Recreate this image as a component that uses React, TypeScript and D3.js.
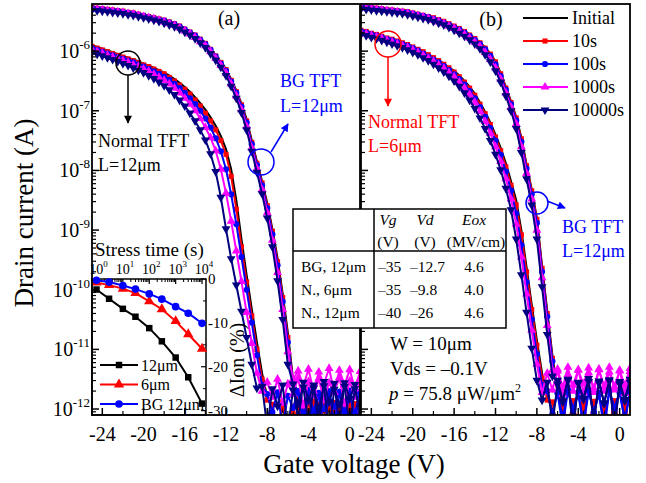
import React from "react";
import * as d3 from "d3";

// Gate voltage sweep (V)
const GATE_V = [
  -25.5, -25, -24.5, -24, -23.5, -23, -22.5, -22, -21.5, -21, -20.5, -20, -19.5, -19,
  -18.5, -18, -17.5, -17, -16.5, -16, -15.5, -15, -14.5, -14, -13.5, -13, -12.5, -12,
  -11.5, -11, -10.5, -10, -9.5, -9, -8.5, -8, -7.5, -7, -6.5, -6, -5.5, -5, -4.5, -4,
  -3.5, -3, -2.5, -2, -1.5, -1, -0.5, 0, 0.5, 1,
];

// log10 of drain current (A). Panel (a): normal TFT, L = 12 um
const NA_INIT = [
  -5.87, -5.9, -5.93, -5.96, -5.99, -6.02, -6.05, -6.08, -6.11, -6.14, -6.17, -6.21, -6.24, -6.28,
  -6.32, -6.36, -6.41, -6.47, -6.53, -6.6, -6.68, -6.77, -6.87, -6.98, -7.11, -7.25, -7.42, -7.64,
  -7.98, -8.5, -9.15, -9.75, -10.32, -10.88, -11.4, -11.8,
  -12.0, -12.3, -11.98, -12.4, -12.02, -12.25, -11.97, -12.35, -12.01, -12.28, -11.99, -12.4,
  -12.03, -12.22, -11.98, -12.33, -12.0, -12.26,
];
const NA_10S = [
  -5.89, -5.92, -5.95, -5.98, -6.01, -6.04, -6.07, -6.1, -6.13, -6.16, -6.19, -6.23, -6.26, -6.3,
  -6.34, -6.38, -6.44, -6.5, -6.57, -6.64, -6.72, -6.82, -6.92, -7.04, -7.17, -7.32, -7.5, -7.73,
  -8.1, -8.65, -9.28, -9.87, -10.44, -11.0, -11.5, -11.85,
  -11.92, -12.35, -11.88, -12.4, -11.95, -12.28, -11.9, -12.4, -11.87, -12.32, -11.93, -12.4,
  -11.89, -12.3, -11.94, -12.38, -11.91, -12.35,
];
const NA_100S = [
  -5.92, -5.95, -5.98, -6.01, -6.04, -6.07, -6.1, -6.13, -6.16, -6.19, -6.22, -6.26, -6.3, -6.34,
  -6.38, -6.43, -6.48, -6.55, -6.62, -6.7, -6.79, -6.89, -7.0, -7.13, -7.28, -7.46, -7.68, -7.98,
  -8.4, -8.9, -9.45, -10.0, -10.55, -11.1, -11.6,
  -11.75, -12.05, -11.72, -12.3, -11.78, -11.98, -11.7, -12.25, -11.76, -12.02, -11.73, -12.35,
  -11.77, -11.96, -11.71, -12.2, -11.74, -12.08, -11.72,
];
const NA_1000S = [
  -5.95, -5.98, -6.01, -6.04, -6.07, -6.1, -6.13, -6.16, -6.19, -6.23, -6.26, -6.3, -6.34, -6.39,
  -6.44, -6.49, -6.55, -6.62, -6.7, -6.79, -6.89, -7.0, -7.13, -7.28, -7.45, -7.67, -7.98, -8.38,
  -8.85, -9.35, -9.86, -10.38, -10.9, -11.4, -11.7,
  -11.55, -11.8, -11.5, -11.9, -11.58, -11.75, -11.48, -11.95, -11.54, -11.78, -11.49, -11.85,
  -11.56, -11.72, -11.47, -11.92, -11.53, -11.8, -11.5,
];
const NA_10000S = [
  -5.99, -6.02, -6.05, -6.08, -6.11, -6.14, -6.17, -6.21, -6.24, -6.28, -6.32, -6.36, -6.41, -6.46,
  -6.52, -6.58, -6.65, -6.73, -6.82, -6.92, -7.04, -7.17, -7.32, -7.49, -7.72, -8.02, -8.45, -8.98,
  -9.48, -9.92, -10.36, -10.8, -11.25, -11.65,
  -11.62, -12.3, -11.66, -11.95, -11.6, -12.35, -11.68, -11.9, -11.63, -12.25, -11.65, -12.0,
  -11.61, -12.4, -11.67, -11.92, -11.62, -12.3, -11.66, -11.98,
];

// Panel (a): BG TFT, L = 12 um
const BA_INIT = [
  -5.25, -5.26, -5.27, -5.28, -5.29, -5.3, -5.31, -5.32, -5.34, -5.35, -5.37, -5.39, -5.41, -5.43,
  -5.45, -5.47, -5.5, -5.53, -5.57, -5.62, -5.67, -5.72, -5.79, -5.86, -5.96, -6.07, -6.18, -6.3,
  -6.47, -6.66, -6.88, -7.14, -7.5, -7.85, -8.18, -8.55, -8.98, -9.47, -10.07, -10.72, -11.5,
  -12.02, -12.3, -11.99, -12.38, -12.01, -12.25, -11.98, -12.35, -12.03, -12.28, -12.0, -12.4, -11.99,
];
const BA_10S = [
  -5.26, -5.27, -5.28, -5.29, -5.3, -5.31, -5.32, -5.33, -5.35, -5.36, -5.38, -5.4, -5.42, -5.44,
  -5.46, -5.48, -5.51, -5.54, -5.58, -5.63, -5.68, -5.73, -5.8, -5.87, -5.97, -6.08, -6.19, -6.31,
  -6.49, -6.68, -6.9, -7.17, -7.53, -7.88, -8.21, -8.59, -9.02, -9.53, -10.13, -10.8, -11.55,
  -11.9, -12.4, -11.86, -12.32, -11.92, -12.4, -11.88, -12.3, -11.91, -12.38, -11.87, -12.35, -11.9,
];
const BA_100S = [
  -5.27, -5.28, -5.29, -5.3, -5.31, -5.32, -5.33, -5.34, -5.36, -5.37, -5.39, -5.41, -5.43, -5.45,
  -5.47, -5.49, -5.52, -5.55, -5.59, -5.64, -5.69, -5.74, -5.81, -5.88, -5.98, -6.09, -6.21, -6.33,
  -6.51, -6.7, -6.93, -7.2, -7.56, -7.91, -8.25, -8.63, -9.07, -9.59, -10.2, -10.88, -11.55,
  -11.72, -12.1, -11.68, -12.3, -11.74, -12.0, -11.7, -12.25, -11.73, -12.05, -11.69, -12.2, -11.71,
];
const BA_1000S = [
  -5.28, -5.29, -5.3, -5.31, -5.32, -5.33, -5.34, -5.35, -5.37, -5.38, -5.4, -5.42, -5.44, -5.46,
  -5.48, -5.51, -5.54, -5.57, -5.61, -5.66, -5.71, -5.77, -5.84, -5.91, -6.01, -6.12, -6.24, -6.37,
  -6.55, -6.75, -6.98, -7.26, -7.62, -7.97, -8.32, -8.71, -9.17, -9.71, -10.33, -11.04, -11.5,
  -11.36, -11.62, -11.33, -11.7, -11.38, -11.58, -11.32, -11.72, -11.35, -11.6, -11.34, -11.66, -11.37,
];
const BA_10000S = [
  -5.3, -5.31, -5.32, -5.33, -5.34, -5.35, -5.36, -5.37, -5.39, -5.4, -5.42, -5.44, -5.46, -5.48,
  -5.5, -5.53, -5.56, -5.59, -5.63, -5.68, -5.73, -5.79, -5.86, -5.94, -6.04, -6.15, -6.27, -6.41,
  -6.59, -6.79, -7.03, -7.32, -7.68, -8.03, -8.39, -8.8, -9.28, -9.85, -10.5, -11.25,
  -11.58, -12.2, -11.55, -11.85, -11.6, -12.3, -11.54, -11.88, -11.57, -12.25, -11.56, -11.82,
  -11.59, -12.15,
];

// Panel (b): normal TFT, L = 6 um
const NB_INIT = [
  -5.62, -5.64, -5.66, -5.69, -5.71, -5.74, -5.77, -5.79, -5.82, -5.85, -5.88, -5.92, -5.96, -6.0,
  -6.05, -6.1, -6.15, -6.21, -6.27, -6.33, -6.41, -6.5, -6.6, -6.71, -6.86, -7.02, -7.2, -7.4,
  -7.62, -7.88, -8.18, -8.5, -9.0, -9.62, -10.25, -10.85, -11.4, -11.8,
  -12.01, -12.3, -11.98, -12.36, -12.02, -12.25, -11.99, -12.4, -12.0, -12.28, -11.97, -12.34,
  -12.03, -12.26, -11.99, -12.38,
];
const NB_10S = [
  -5.63, -5.65, -5.67, -5.7, -5.72, -5.75, -5.78, -5.8, -5.83, -5.86, -5.89, -5.93, -5.97, -6.01,
  -6.06, -6.11, -6.16, -6.22, -6.28, -6.35, -6.43, -6.52, -6.62, -6.74, -6.89, -7.05, -7.23, -7.44,
  -7.67, -7.94, -8.25, -8.58, -9.08, -9.7, -10.33, -10.93, -11.48, -11.85,
  -11.88, -12.38, -11.92, -12.3, -11.86, -12.4, -11.9, -12.33, -11.87, -12.4, -11.93, -12.28,
  -11.89, -12.36, -11.91, -12.4,
];
const NB_100S = [
  -5.65, -5.67, -5.69, -5.72, -5.74, -5.77, -5.8, -5.82, -5.85, -5.88, -5.91, -5.95, -5.99, -6.04,
  -6.09, -6.14, -6.19, -6.25, -6.32, -6.39, -6.47, -6.56, -6.67, -6.79, -6.94, -7.1, -7.29, -7.5,
  -7.74, -8.02, -8.34, -8.72, -9.25, -9.87, -10.5, -11.08, -11.6,
  -11.7, -12.08, -11.74, -12.3, -11.68, -12.0, -11.72, -12.22, -11.69, -12.05, -11.75, -12.35,
  -11.71, -11.98, -11.73, -12.18, -11.7,
];
const NB_1000S = [
  -5.67, -5.69, -5.71, -5.74, -5.76, -5.79, -5.82, -5.85, -5.88, -5.91, -5.94, -5.98, -6.02, -6.07,
  -6.12, -6.17, -6.23, -6.29, -6.36, -6.43, -6.52, -6.62, -6.73, -6.86, -7.01, -7.18, -7.38, -7.6,
  -7.85, -8.14, -8.48, -8.9, -9.45, -10.07, -10.68, -11.25, -11.72,
  -11.4, -11.68, -11.36, -11.75, -11.42, -11.6, -11.34, -11.72, -11.39, -11.65, -11.33, -11.7,
  -11.38, -11.62, -11.35, -11.74, -11.37,
];
const NB_10000S = [
  -5.7, -5.72, -5.74, -5.77, -5.79, -5.82, -5.85, -5.88, -5.91, -5.94, -5.98, -6.02, -6.06, -6.11,
  -6.16, -6.22, -6.28, -6.35, -6.42, -6.5, -6.59, -6.7, -6.82, -6.96, -7.12, -7.3, -7.5, -7.73,
  -7.99, -8.3, -8.66, -9.15, -9.75, -10.38, -10.98, -11.52, -11.85,
  -11.55, -12.25, -11.58, -11.88, -11.52, -12.35, -11.57, -11.84, -11.54, -12.2, -11.56, -11.9,
  -11.53, -12.3, -11.58, -11.86, -11.55,
];

// Panel (b): BG TFT, L = 12 um
const BB_INIT = [
  -5.23, -5.24, -5.25, -5.26, -5.27, -5.28, -5.29, -5.3, -5.31, -5.32, -5.33, -5.35, -5.37, -5.39,
  -5.41, -5.43, -5.46, -5.49, -5.53, -5.57, -5.61, -5.66, -5.72, -5.78, -5.85, -5.94, -6.04, -6.17,
  -6.37, -6.6, -6.84, -7.1, -7.45, -7.9, -8.32, -8.8, -9.6, -10.35, -11.1, -11.7,
  -12.0, -12.32, -11.98, -12.26, -12.02, -12.4, -11.99, -12.3, -12.01, -12.36, -11.97, -12.28,
  -12.02, -12.34,
];
const BB_10S = [
  -5.24, -5.25, -5.26, -5.27, -5.28, -5.29, -5.3, -5.31, -5.32, -5.33, -5.34, -5.36, -5.38, -5.4,
  -5.42, -5.44, -5.47, -5.5, -5.54, -5.58, -5.62, -5.67, -5.73, -5.79, -5.86, -5.95, -6.05, -6.18,
  -6.38, -6.62, -6.86, -7.12, -7.47, -7.92, -8.34, -8.82, -9.64, -10.4, -11.15, -11.75,
  -11.9, -12.4, -11.87, -12.32, -11.92, -12.38, -11.88, -12.4, -11.91, -12.3, -11.86, -12.38,
  -11.9, -12.35,
];
const BB_100S = [
  -5.25, -5.26, -5.27, -5.28, -5.29, -5.3, -5.31, -5.32, -5.33, -5.34, -5.35, -5.37, -5.39, -5.41,
  -5.43, -5.46, -5.49, -5.52, -5.56, -5.6, -5.64, -5.69, -5.75, -5.81, -5.88, -5.97, -6.08, -6.22,
  -6.42, -6.65, -6.89, -7.16, -7.52, -7.97, -8.4, -8.88, -9.7, -10.45, -11.2,
  -11.72, -12.15, -11.69, -12.02, -11.74, -12.3, -11.7, -12.06, -11.73, -12.25, -11.68, -11.98,
  -11.71, -12.2, -11.74,
];
const BB_1000S = [
  -5.26, -5.27, -5.28, -5.29, -5.3, -5.31, -5.32, -5.33, -5.34, -5.35, -5.37, -5.39, -5.41, -5.43,
  -5.45, -5.48, -5.51, -5.54, -5.58, -5.62, -5.67, -5.72, -5.78, -5.85, -5.92, -6.02, -6.14, -6.28,
  -6.47, -6.7, -6.94, -7.22, -7.6, -8.05, -8.48, -9.0, -9.8, -10.6, -11.35,
  -11.33, -11.64, -11.3, -11.7, -11.35, -11.58, -11.31, -11.72, -11.34, -11.62, -11.3, -11.68,
  -11.36, -11.6, -11.32,
];
const BB_10000S = [
  -5.28, -5.29, -5.3, -5.31, -5.32, -5.33, -5.34, -5.35, -5.36, -5.37, -5.39, -5.41, -5.43, -5.45,
  -5.47, -5.5, -5.53, -5.56, -5.6, -5.65, -5.7, -5.75, -5.81, -5.88, -5.96, -6.06, -6.18, -6.33,
  -6.52, -6.75, -7.0, -7.3, -7.7, -8.14, -8.58, -9.15, -9.95, -10.75, -11.45,
  -11.52, -11.86, -11.5, -12.3, -11.55, -11.82, -11.49, -12.22, -11.53, -11.9, -11.51, -12.35,
  -11.54, -11.84, -11.5,
];

const STRESS_LABELS = ["Initial", "10s", "100s", "1000s", "10000s"];
const STRESS_COLORS = ["#000000", "#ff0000", "#0000ff", "#ff00ff", "#000080"];

// Inset: on-current change vs stress time
const STRESS_TIME = [1, 3, 10, 30, 100, 300, 1000, 3000, 10000];
const DION_12UM = [-2.4, -4.5, -6.8, -8.6, -11.2, -14.2, -17.9, -22.4, -28.4];
const DION_6UM = [-0.8, -1.4, -2.2, -3.2, -5.1, -6.9, -9.6, -12.6, -15.9];
const DION_BG12UM = [-0.3, -0.7, -1.5, -2.3, -3.4, -4.6, -6.3, -7.8, -10.1];
const INSET_LABELS = ["12\u03bcm", "6\u03bcm", "BG 12\u03bcm"];
const INSET_COLORS = ["#000000", "#ff0000", "#0000ff"];

const X_TICKS = [-24, -20, -16, -12, -8, -4, 0];
const Y_EXPONENTS = [-6, -7, -8, -9, -10, -11, -12];

const FONT = '"Liberation Serif", "Times New Roman", serif';

const TOP = 4;
const BOTTOM = 415;
const A_LEFT = 92;
const A_RIGHT = 360;
const B_LEFT = 361;
const B_RIGHT = 630;

const symSquare = d3.symbol(d3.symbolSquare, 26)() as string;
const symCircle = d3.symbol(d3.symbolCircle, 30)() as string;
const symTri = d3.symbol(d3.symbolTriangle, 34)() as string;
const STRESS_SYMBOLS: (null | { d: string; rot: number })[] = [
  null,
  { d: symSquare, rot: 0 },
  { d: symCircle, rot: 0 },
  { d: symTri, rot: 0 },
  { d: symTri, rot: 180 },
];

const yScale = d3
  .scaleLog()
  .domain([Math.pow(10, -12.1), Math.pow(10, -5.21)])
  .range([BOTTOM, TOP]);

function PanelCurves({ xs, devices, clipId }: { xs: d3.ScaleLinear<number, number>; devices: number[][][]; clipId: string }) {
  const line = d3
    .line<number>()
    .x((_, i) => xs(GATE_V[i]))
    .y((v) => yScale(Math.pow(10, v)));
  return (
    <g clipPath={`url(#${clipId})`}>
      {STRESS_LABELS.map((_, s) =>
        devices.map((dev, d) => {
          const vals = dev[s].slice(0, GATE_V.length);
          const sym = STRESS_SYMBOLS[s];
          return (
            <g key={`${s}-${d}`}>
              <path d={line(vals) || ""} fill="none" stroke={STRESS_COLORS[s]} strokeWidth={2} />
              {sym &&
                vals.map((v, i) => (
                  <path
                    key={i}
                    d={sym.d}
                    fill={STRESS_COLORS[s]}
                    transform={`translate(${xs(GATE_V[i])},${yScale(Math.pow(10, v))}) rotate(${sym.rot})`}
                  />
                ))}
            </g>
          );
        })
      )}
    </g>
  );
}

function PanelAxes({ xs, left, right, showYLabels }: { xs: d3.ScaleLinear<number, number>; left: number; right: number; showYLabels: boolean }) {
  const minor: number[] = [];
  for (let k = -13; k <= -5; k++) {
    for (let m = 2; m <= 9; m++) {
      const v = m * Math.pow(10, k);
      const yy = yScale(v);
      if (yy > TOP + 1 && yy < BOTTOM - 1) minor.push(yy);
    }
  }
  const xMinor = [-22, -18, -14, -10, -6, -2];
  return (
    <g>
      <rect x={left} y={TOP} width={right - left} height={BOTTOM - TOP} fill="none" stroke="#000" strokeWidth={1.8} />
      {Y_EXPONENTS.map((e) => {
        const yy = yScale(Math.pow(10, e));
        return (
          <g key={e}>
            <line x1={left} x2={left + 7} y1={yy} y2={yy} stroke="#000" strokeWidth={1.5} />
            {showYLabels && (
              <text x={left - 2} y={yy + 7} textAnchor="end" fontSize={20} fontFamily={FONT}>
                10
                <tspan dy={-9} fontSize={13}>
                  {`-${-e}`}
                </tspan>
              </text>
            )}
          </g>
        );
      })}
      {minor.map((yy, i) => (
        <line key={i} x1={left} x2={left + 4} y1={yy} y2={yy} stroke="#000" strokeWidth={1.2} />
      ))}
      {X_TICKS.map((t) => (
        <g key={t}>
          <line x1={xs(t)} x2={xs(t)} y1={BOTTOM} y2={BOTTOM - 7} stroke="#000" strokeWidth={1.5} />
          <text x={xs(t)} y={441} textAnchor="middle" fontSize={20} fontFamily={FONT}>
            {t === 0 ? "0" : `-${-t}`}
          </text>
        </g>
      ))}
      {xMinor.map((t) => (
        <line key={t} x1={xs(t)} x2={xs(t)} y1={BOTTOM} y2={BOTTOM - 4} stroke="#000" strokeWidth={1.2} />
      ))}
    </g>
  );
}

function Inset() {
  const ix = d3.scaleLog().domain([Math.pow(10, -0.17), Math.pow(10, 4.15)]).range([92, 206]);
  const iy = d3.scaleLinear().domain([-31, 0]).range([BOTTOM, 279]);
  const series = [DION_12UM, DION_6UM, DION_BG12UM];
  const line = d3
    .line<number>()
    .x((_, i) => ix(STRESS_TIME[i]))
    .y((v) => iy(v));
  const syms = [
    { d: d3.symbol(d3.symbolSquare, 42)() as string },
    { d: d3.symbol(d3.symbolTriangle, 46)() as string },
    { d: d3.symbol(d3.symbolCircle, 46)() as string },
  ];
  const decades = [0, 1, 2, 3, 4];
  const minorT: number[] = [];
  for (let k = 0; k < 4; k++) for (let m = 2; m <= 9; m++) minorT.push(m * Math.pow(10, k));
  const rightTicks = [0, -10, -20, -30];
  return (
    <g fontFamily={FONT}>
      <rect x={92} y={279} width={114} height={BOTTOM - 279} fill="#fff" stroke="#000" strokeWidth={1.5} />
      {decades.map((k) => (
        <g key={k}>
          <line x1={ix(Math.pow(10, k))} x2={ix(Math.pow(10, k))} y1={279} y2={284} stroke="#000" strokeWidth={1.2} />
          <text x={ix(Math.pow(10, k)) + 2} y={274} textAnchor="middle" fontSize={14}>
            10
            <tspan dy={-7} fontSize={9}>
              {k}
            </tspan>
          </text>
        </g>
      ))}
      {minorT.map((t, i) => (
        <line key={i} x1={ix(t)} x2={ix(t)} y1={279} y2={282} stroke="#000" strokeWidth={1} />
      ))}
      {rightTicks.map((v) => (
        <g key={v}>
          <line x1={206} x2={201} y1={iy(v)} y2={iy(v)} stroke="#000" strokeWidth={1.2} />
          <text x={208} y={iy(v) + 5} fontSize={15}>
            {v === 0 ? "0" : `-${-v}`}
          </text>
        </g>
      ))}
      {[-5, -15, -25].map((v) => (
        <line key={v} x1={206} x2={203} y1={iy(v)} y2={iy(v)} stroke="#000" strokeWidth={1} />
      ))}
      <text x={95} y={256} fontSize={19}>
        Stress time (s)
      </text>
      <text transform="translate(244,360) rotate(-90)" textAnchor="middle" fontSize={20}>
        {"\u0394Ion (%)"}
      </text>
      {series.map((vals, s) => (
        <g key={s}>
          <path d={line(vals) || ""} fill="none" stroke={INSET_COLORS[s]} strokeWidth={2} />
          {vals.map((v, i) => (
            <path key={i} d={syms[s].d} fill={INSET_COLORS[s]} transform={`translate(${ix(STRESS_TIME[i])},${iy(v)})`} />
          ))}
        </g>
      ))}
      {INSET_LABELS.map((lab, s) => {
        const ry = 365 + s * 19.5;
        return (
          <g key={lab}>
            <line x1={100} x2={138} y1={ry} y2={ry} stroke={INSET_COLORS[s]} strokeWidth={2} />
            <path d={syms[s].d} fill={INSET_COLORS[s]} transform={`translate(119,${ry})`} />
            <text x={141} y={ry + 5.5} fontSize={16}>
              {lab}
            </text>
          </g>
        );
      })}
    </g>
  );
}

function ParamTable() {
  const rowY = [272, 295, 318];
  const rows = [
    ["BG, 12\u03bcm", "\u201335", "\u201312.7", "4.6"],
    ["N., 6\u03bcm", "\u201335", "\u20139.8", "4.0"],
    ["N., 12\u03bcm", "\u201340", "\u201326", "4.6"],
  ];
  return (
    <g fontFamily={FONT} fontSize={15.5}>
      <rect x={293} y={209} width={213} height={119} fill="#fff" stroke="#000" strokeWidth={1.5} />
      <line x1={374} x2={374} y1={209} y2={328} stroke="#000" strokeWidth={1.5} />
      <line x1={293} x2={506} y1={251} y2={251} stroke="#000" strokeWidth={1.5} />
      <text x={388} y={225} textAnchor="middle" fontStyle="italic">Vg</text>
      <text x={425} y={225} textAnchor="middle" fontStyle="italic">Vd</text>
      <text x={474} y={225} textAnchor="middle" fontStyle="italic">Eox</text>
      <text x={388} y={247} textAnchor="middle">(V)</text>
      <text x={425} y={247} textAnchor="middle">(V)</text>
      <text x={476} y={247} textAnchor="middle">(MV/cm)</text>
      {rows.map((r, i) => (
        <g key={i}>
          <text x={301} y={rowY[i]}>{r[0]}</text>
          <text x={378} y={rowY[i]}>{r[1]}</text>
          <text x={410} y={rowY[i]}>{r[2]}</text>
          <text x={474} y={rowY[i]} textAnchor="middle">{r[3]}</text>
        </g>
      ))}
    </g>
  );
}

export default function App() {
  const xA = d3.scaleLinear().domain([-25, 1]).range([A_LEFT, A_RIGHT]);
  const xB = d3.scaleLinear().domain([-25, 1]).range([B_LEFT, B_RIGHT]);
  const devicesA = [
    [NA_INIT, NA_10S, NA_100S, NA_1000S, NA_10000S],
    [BA_INIT, BA_10S, BA_100S, BA_1000S, BA_10000S],
  ];
  const devicesB = [
    [NB_INIT, NB_10S, NB_100S, NB_1000S, NB_10000S],
    [BB_INIT, BB_10S, BB_100S, BB_1000S, BB_10000S],
  ];
  const arrowColors = { black: "#000", blue: "#0000ff", red: "#ff0000" };
  return (
    <svg width={646} height={483} style={{ position: "absolute", left: 0, top: 0, background: "#fff" }} fontFamily={FONT}>
      <defs>
        <clipPath id="clipA">
          <rect x={A_LEFT} y={TOP} width={A_RIGHT - A_LEFT} height={BOTTOM - TOP} />
        </clipPath>
        <clipPath id="clipB">
          <rect x={B_LEFT} y={TOP} width={B_RIGHT - B_LEFT} height={BOTTOM - TOP} />
        </clipPath>
        {Object.entries(arrowColors).map(([k, c]) => (
          <marker key={k} id={`ah-${k}`} viewBox="0 0 10 10" refX={9} refY={5} markerWidth={9} markerHeight={8} markerUnits="userSpaceOnUse" orient="auto">
            <path d="M0,0 L10,5 L0,10 z" fill={c} />
          </marker>
        ))}
      </defs>
      <rect x={0} y={0} width={646} height={483} fill="#fff" />

      <PanelCurves xs={xA} devices={devicesA} clipId="clipA" />
      <PanelCurves xs={xB} devices={devicesB} clipId="clipB" />

      <Inset />

      <PanelAxes xs={xA} left={A_LEFT} right={A_RIGHT} showYLabels={true} />
      <PanelAxes xs={xB} left={B_LEFT} right={B_RIGHT} showYLabels={false} />

      <ParamTable />

      {/* panel tags */}
      <text x={229} y={25} textAnchor="middle" fontSize={20}>(a)</text>
      <text x={491} y={26} textAnchor="middle" fontSize={20}>(b)</text>

      {/* device call-outs */}
      <circle cx={128} cy={63} r={12} fill="none" stroke="#000" strokeWidth={1.5} />
      <line x1={128} y1={75} x2={128} y2={123} stroke="#000" strokeWidth={1.5} markerEnd="url(#ah-black)" />
      <text x={98} y={147} fontSize={18}>Normal TFT</text>
      <text x={98} y={171} fontSize={18}>{"L=12\u03bcm"}</text>

      <circle cx={261} cy={162} r={13} fill="none" stroke="#0000ff" strokeWidth={1.5} />
      <line x1={271} y1={152} x2={288} y2={124} stroke="#0000ff" strokeWidth={1.5} markerEnd="url(#ah-blue)" />
      <text x={280} y={87} fontSize={18} fill="#0000ff">BG TFT</text>
      <text x={280} y={112} fontSize={18} fill="#0000ff">{"L=12\u03bcm"}</text>

      <circle cx={388} cy={44} r={13} fill="none" stroke="#ff0000" strokeWidth={1.5} />
      <line x1={388} y1={57} x2={388} y2={106} stroke="#ff0000" strokeWidth={1.5} markerEnd="url(#ah-red)" />
      <text x={368} y={128} fontSize={18} fill="#ff0000">Normal TFT</text>
      <text x={368} y={152} fontSize={18} fill="#ff0000">{"L=6\u03bcm"}</text>

      <circle cx={537} cy={203} r={11} fill="none" stroke="#0000ff" strokeWidth={1.5} />
      <line x1={547} y1={201} x2={565} y2={208} stroke="#0000ff" strokeWidth={1.5} markerEnd="url(#ah-blue)" />
      <text x={562} y={233} fontSize={18} fill="#0000ff">BG TFT</text>
      <text x={562} y={257} fontSize={18} fill="#0000ff">{"L=12\u03bcm"}</text>

      {/* bias conditions */}
      <text x={390} y={350} fontSize={19}>{"W = 10\u03bcm"}</text>
      <text x={390} y={375} fontSize={19}>{"Vds = \u20130.1V"}</text>
      <text x={389} y={400} fontSize={19}>
        <tspan fontStyle="italic">p</tspan>
        {" = 75.8 \u03bcW/\u03bcm"}
        <tspan dy={-8} fontSize={12}>2</tspan>
      </text>

      {/* legend */}
      {STRESS_LABELS.map((lab, s) => {
        const ry = 18 + s * 23;
        const sym = STRESS_SYMBOLS[s];
        return (
          <g key={lab}>
            <line x1={523} x2={568} y1={ry} y2={ry} stroke={STRESS_COLORS[s]} strokeWidth={2.2} />
            {sym && <path d={sym.d} fill={STRESS_COLORS[s]} transform={`translate(545,${ry}) rotate(${sym.rot})`} />}
            <text x={572} y={ry + 6} fontSize={18}>
              {lab}
            </text>
          </g>
        );
      })}

      {/* axis titles */}
      <text x={354} y={473} textAnchor="middle" fontSize={27}>Gate voltage (V)</text>
      <text transform="translate(33,213) rotate(-90)" textAnchor="middle" fontSize={27}>Drain current (A)</text>
    </svg>
  );
}
